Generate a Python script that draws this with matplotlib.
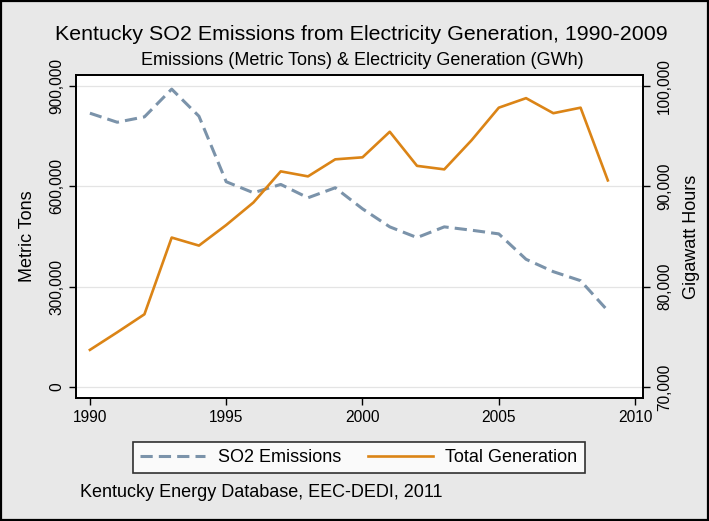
import matplotlib
matplotlib.use("Agg")
import matplotlib.pyplot as plt
from matplotlib.patches import Rectangle
from matplotlib.ticker import FuncFormatter

years = list(range(1990, 2010))
so2_tons = [819000, 792000, 808000, 891000, 810000, 614000, 581000, 606000, 566000, 596000,
            533000, 479000, 447000, 479000, 469000, 458000, 382000, 345000, 318000, 228000]
generation_gwh = [73700, 75450, 77250, 84900, 84100, 86150, 88400, 91500, 91000, 92700,
                  92900, 95450, 92050, 91700, 94600, 97850, 98800, 97300, 97850, 90600]

left_ticks = [0, 300000, 600000, 900000]
right_ticks = [70000, 80000, 90000, 100000]
x_ticks = [1990, 1995, 2000, 2005, 2010]

so2_color = "#7b93aa"
gen_color = "#db8416"
bg_color = "#e8e8e8"

plt.rcParams["font.family"] = ["Liberation Sans", "DejaVu Sans"]

fig = plt.figure(figsize=(7.09, 5.21), dpi=100, facecolor=bg_color)
fig.patches.append(Rectangle((0.002, 0.002), 0.996, 0.996, transform=fig.transFigure,
                             fill=False, edgecolor="black", linewidth=1.6))

ax = fig.add_axes([0.1072, 0.2361, 0.7997, 0.6199])
ax.set_facecolor("white")
ax2 = ax.twinx()

fmt = FuncFormatter(lambda v, p: f"{int(v):,}")

ax.plot(years, so2_tons, color=so2_color, linewidth=2.2, linestyle=(0, (4, 2.0)),
        label="SO2 Emissions")
ax2.plot(years, generation_gwh, color=gen_color, linewidth=1.9, label="Total Generation")

ax.set_xlim(1989.49, 2010.29)
ax.set_ylim(-32900, 933200)
ax2.set_ylim(70000 - 32900 / 30, 70000 + 933200 / 30)

ax.set_xticks(x_ticks)
ax.set_yticks(left_ticks)
ax2.set_yticks(right_ticks)
ax.yaxis.set_major_formatter(fmt)
ax2.yaxis.set_major_formatter(fmt)

ax.grid(axis="y", color="#e4e4e4", linewidth=0.9)
ax.set_axisbelow(True)

for a in (ax, ax2):
    for s in a.spines.values():
        s.set_linewidth(1.3)
        s.set_color("black")
ax.tick_params(axis="both", direction="out", length=5, width=1, labelsize=11.2, colors="black")
ax2.tick_params(axis="y", direction="out", length=5, width=1, labelsize=11.2, pad=5)
for lbl in ax.get_yticklabels():
    lbl.set_rotation(90)
    lbl.set_va("center")
for lbl in ax2.get_yticklabels():
    lbl.set_rotation(90)
    lbl.set_va("center")

ax.set_ylabel("Metric Tons", fontsize=13)
ax2.set_ylabel("Gigawatt Hours", fontsize=13)
ax.yaxis.set_label_coords(-0.071, 0.5)
ax2.yaxis.set_label_coords(1.071, 0.5)

fig.text(0.509, 0.933, "Kentucky SO2 Emissions from Electricity Generation, 1990-2009",
         ha="center", va="center", fontsize=15.4)
fig.text(0.511, 0.883, "Emissions (Metric Tons) & Electricity Generation (GWh)",
         ha="center", va="center", fontsize=13)

h1, l1 = ax.get_legend_handles_labels()
h2, l2 = ax2.get_legend_handles_labels()
leg = fig.legend(h1 + h2, l1 + l2, loc="center", bbox_to_anchor=(0.506, 0.122), ncol=2,
                 fontsize=13, frameon=True, fancybox=False, edgecolor="black",
                 handlelength=3.6, handletextpad=0.7, columnspacing=1.5, borderpad=0.4)
leg.get_frame().set_linewidth(1.2)

fig.text(0.113, 0.055, "Kentucky Energy Database, EEC-DEDI, 2011", ha="left", va="center",
         fontsize=13)

fig.savefig("out.png", dpi=100, facecolor=bg_color)
